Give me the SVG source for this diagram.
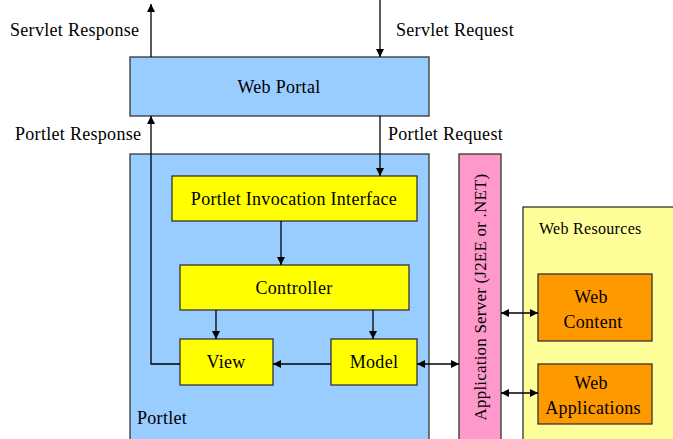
<svg xmlns="http://www.w3.org/2000/svg" width="673" height="439" viewBox="0 0 673 439">
<defs>
<marker id="ah" viewBox="0 0 10 10" refX="10" refY="5" markerWidth="8" markerHeight="8" markerUnits="userSpaceOnUse" orient="auto-start-reverse">
<path d="M0,0 L10,5 L0,10 z" fill="#000"/>
</marker>
<style>
text{font-family:'Liberation Serif','DejaVu Serif',serif;font-size:18px;letter-spacing:0.3px;fill:#000}
.box{stroke:#333;stroke-width:1.3}
.blue{fill:#99ccff}
.yel{fill:#ffff00}
.pink{fill:#ff99cc}
.lyel{fill:#ffff99}
.org{fill:#ff9900}
.c line,.c path{stroke:#000;stroke-width:1.3;fill:none}
.m{text-anchor:middle}
</style>
</defs>
<rect width="673" height="439" fill="#fff"/>
<g font-family="Liberation Serif, DejaVu Serif, serif">
<g id="portlet"><rect class="box blue" x="130" y="154" width="299" height="292"/><text x="137" y="424">Portlet</text></g>
<g id="web-portal"><rect class="box blue" x="130" y="57" width="299" height="59"/><text class="m" x="279" y="93">Web Portal</text></g>
<g id="pii"><rect class="box yel" x="172" y="176" width="245" height="45"/><text class="m" x="294" y="205">Portlet Invocation Interface</text></g>
<g id="controller"><rect class="box yel" x="180" y="265" width="229" height="45"/><text class="m" x="294" y="294">Controller</text></g>
<g id="view"><rect class="box yel" x="180" y="339" width="93" height="46"/><text class="m" x="226" y="368">View</text></g>
<g id="model"><rect class="box yel" x="331" y="339" width="86" height="46"/><text class="m" x="374" y="368">Model</text></g>
<g id="app-server"><rect class="box pink" x="459" y="154" width="42" height="292"/><text class="m" transform="translate(486,297) rotate(-90)" style="font-size:17px;letter-spacing:0.2px">Application Server (J2EE or .NET)</text></g>
<g id="web-resources"><rect class="box lyel" x="523" y="207" width="160" height="240"/><text x="539" y="234" style="font-size:16px;letter-spacing:0.3px">Web Resources</text></g>
<g id="web-content"><rect class="box org" x="538" y="274" width="114" height="67"/><text class="m" x="591" y="303">Web</text><text class="m" x="593" y="328">Content</text></g>
<g id="web-apps"><rect class="box org" x="538" y="364" width="114" height="60"/><text class="m" x="591" y="389">Web</text><text class="m" x="593" y="414">Applications</text></g>
<g id="labels">
<text x="10" y="36">Servlet Response</text>
<text x="396" y="36">Servlet Request</text>
<text x="15" y="140">Portlet Response</text>
<text x="388" y="140">Portlet Request</text>
</g>
</g>
<g class="c" id="connectors">
<line x1="151" y1="57" x2="151" y2="4" marker-end="url(#ah)"/>
<line x1="380" y1="0" x2="380" y2="57" marker-end="url(#ah)"/>
<path d="M180,364 H151 V116" marker-end="url(#ah)"/>
<line x1="380" y1="116" x2="380" y2="176" marker-end="url(#ah)"/>
<line x1="281" y1="221" x2="281" y2="265" marker-end="url(#ah)"/>
<line x1="216" y1="310" x2="216" y2="339" marker-end="url(#ah)"/>
<line x1="373" y1="310" x2="373" y2="339" marker-end="url(#ah)"/>
<line x1="331" y1="364" x2="273" y2="364" marker-end="url(#ah)"/>
<line x1="417" y1="364" x2="459" y2="364" marker-start="url(#ah)" marker-end="url(#ah)"/>
<line x1="501" y1="313" x2="538" y2="313" marker-start="url(#ah)" marker-end="url(#ah)"/>
<line x1="501" y1="393" x2="538" y2="393" marker-start="url(#ah)" marker-end="url(#ah)"/>
</g>
</svg>
